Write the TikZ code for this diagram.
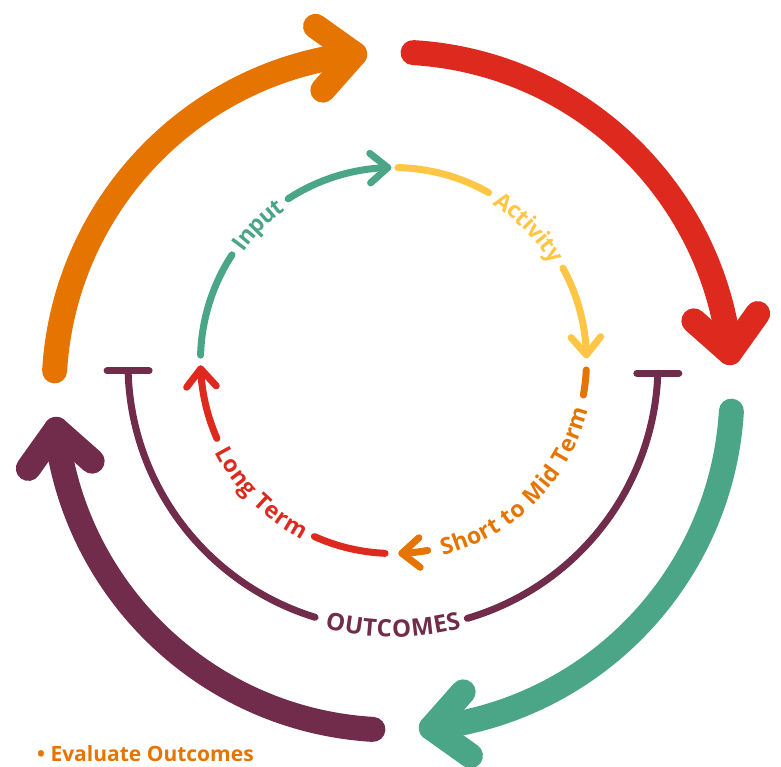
\documentclass[tikz,border=0pt]{standalone}
\usepackage{fontspec}
\setmainfont{Open Sans}
\usetikzlibrary{calc,decorations.text}

\definecolor{cOrange}{RGB}{230,116,0}
\definecolor{cRed}{RGB}{222,41,30}
\definecolor{cGreen}{RGB}{74,166,135}
\definecolor{cPurple}{RGB}{112,44,74}
\definecolor{cYellow}{RGB}{255,198,70}

\tikzset{
  bigarc/.style={line width=25pt, line cap=round, line join=round},
  smallarc/.style={line width=7pt, line cap=round, line join=round},
  ringlabel/.style={decorate, decoration={text along path, text align=center, raise=-8pt, text={#1}}},
}
\newcommand\labelsize{\bfseries\fontsize{23}{23}\selectfont}
\newcommand\bracketsize{\bfseries\fontsize{24}{24}\selectfont}

% plain arc: style, colour, centre, radius, start, end
\newcommand\ringarc[6]{%
  \draw[#1,draw=#2] ($(#3)+(#5:#4)$) arc[start angle=#5, end angle=#6, radius=#4];}
% clockwise chevron head: style, colour, centre, radius, angle, arm length, arm angle
\newcommand\ringhead[7]{%
  \draw[#1,draw=#2] ($(#3)+(#5:#4)+(#5+90+#7:#6)$) -- ($(#3)+(#5:#4)$)
    -- ($(#3)+(#5:#4)+(#5+90-#7:#6)$);}

\begin{document}
\begin{tikzpicture}[x=1pt,y=1pt]
\useasboundingbox (0,0) rectangle (781,-766);
\coordinate (O) at (393,-391);     % outer ring centre
\coordinate (I) at (393.5,-360.5); % inner ring centre
\coordinate (U) at (393,-364);     % outcomes arc centre

% outer ring of four thick arrows
\ringarc{bigarc}{cOrange}{O}{339}{176.6}{96.5}
\ringhead{bigarc}{cOrange}{O}{339}{96.5}{48}{42}
\ringarc{bigarc}{cRed}{O}{339}{86.6}{6.5}
\ringhead{bigarc}{cRed}{O}{339}{6.5}{48}{42}
\ringarc{bigarc}{cGreen}{O}{339}{-3.4}{-83.5}
\ringhead{bigarc}{cGreen}{O}{339}{-83.5}{48}{42}
\ringarc{bigarc}{cPurple}{O}{339}{-93.4}{-173.5}
\ringhead{bigarc}{cPurple}{O}{339}{-173.5}{48}{42}

% inner ring: Input
\ringarc{smallarc}{cGreen}{I}{193}{178.4}{146.8}
\ringarc{smallarc}{cGreen}{I}{193}{123.1}{91.7}
\ringhead{smallarc}{cGreen}{I}{193}{91.7}{23}{40}
\path[ringlabel={|\labelsize\color{cGreen}|Input}]
  ($(I)+(152:193)$) arc[start angle=152, end angle=118, radius=193];

% Activity
\ringarc{smallarc}{cYellow}{I}{193}{88.7}{60.5}
\ringarc{smallarc}{cYellow}{I}{193}{28.6}{1.7}
\ringhead{smallarc}{cYellow}{I}{193}{1.7}{23}{40}
\path[ringlabel={|\labelsize\color{cYellow}|Activity}]
  ($(I)+(66:193)$) arc[start angle=66, end angle=23, radius=193];

% Short to Mid Term
\ringarc{smallarc}{cOrange}{I}{193}{-2.8}{-10.3}
\ringarc{smallarc}{cOrange}{I}{193}{-79.8}{-87.5}
\ringhead{smallarc}{cOrange}{I}{193}{-87.5}{23}{40}
\path[ringlabel={|\labelsize\color{cOrange}|Short to Mid Term}]
  ($(I)+(-87:193)$) arc[start angle=-87, end angle=-3, radius=193];

% Long Term
\ringarc{smallarc}{cRed}{I}{193}{-92.5}{-114.2}
\ringarc{smallarc}{cRed}{I}{193}{-156.2}{-177.5}
\ringhead{smallarc}{cRed}{I}{193}{-177.5}{23}{40}
\path[ringlabel={|\labelsize\color{cRed}|Long Term}]
  ($(I)+(-162:193)$) arc[start angle=-162, end angle=-108, radius=193];

% OUTCOMES bracket
\ringarc{smallarc}{cPurple}{U}{265}{-2}{-73.7}
\ringarc{smallarc}{cPurple}{U}{265}{-107.1}{-178.5}
\coordinate (tL) at ($(U)+(-178.5:265)$);
\coordinate (tR) at ($(U)+(-2:265)$);
\draw[smallarc,cPurple] ([xshift=-21pt]tL) -- ([xshift=21pt]tL);
\draw[smallarc,cPurple] ([xshift=-21pt]tR) -- ([xshift=21pt]tR);
\path[ringlabel={|\bracketsize\color{cPurple}|OUTCOMES}]
  ($(U)+(-117:265)$) arc[start angle=-117, end angle=-63, radius=265];

% note
\node[anchor=base west, inner sep=0pt, text=cOrange, font=\bfseries\fontsize{21}{21}\selectfont]
  (note) at (37,-761) {• Evaluate Outcomes};
\end{tikzpicture}
\end{document}
